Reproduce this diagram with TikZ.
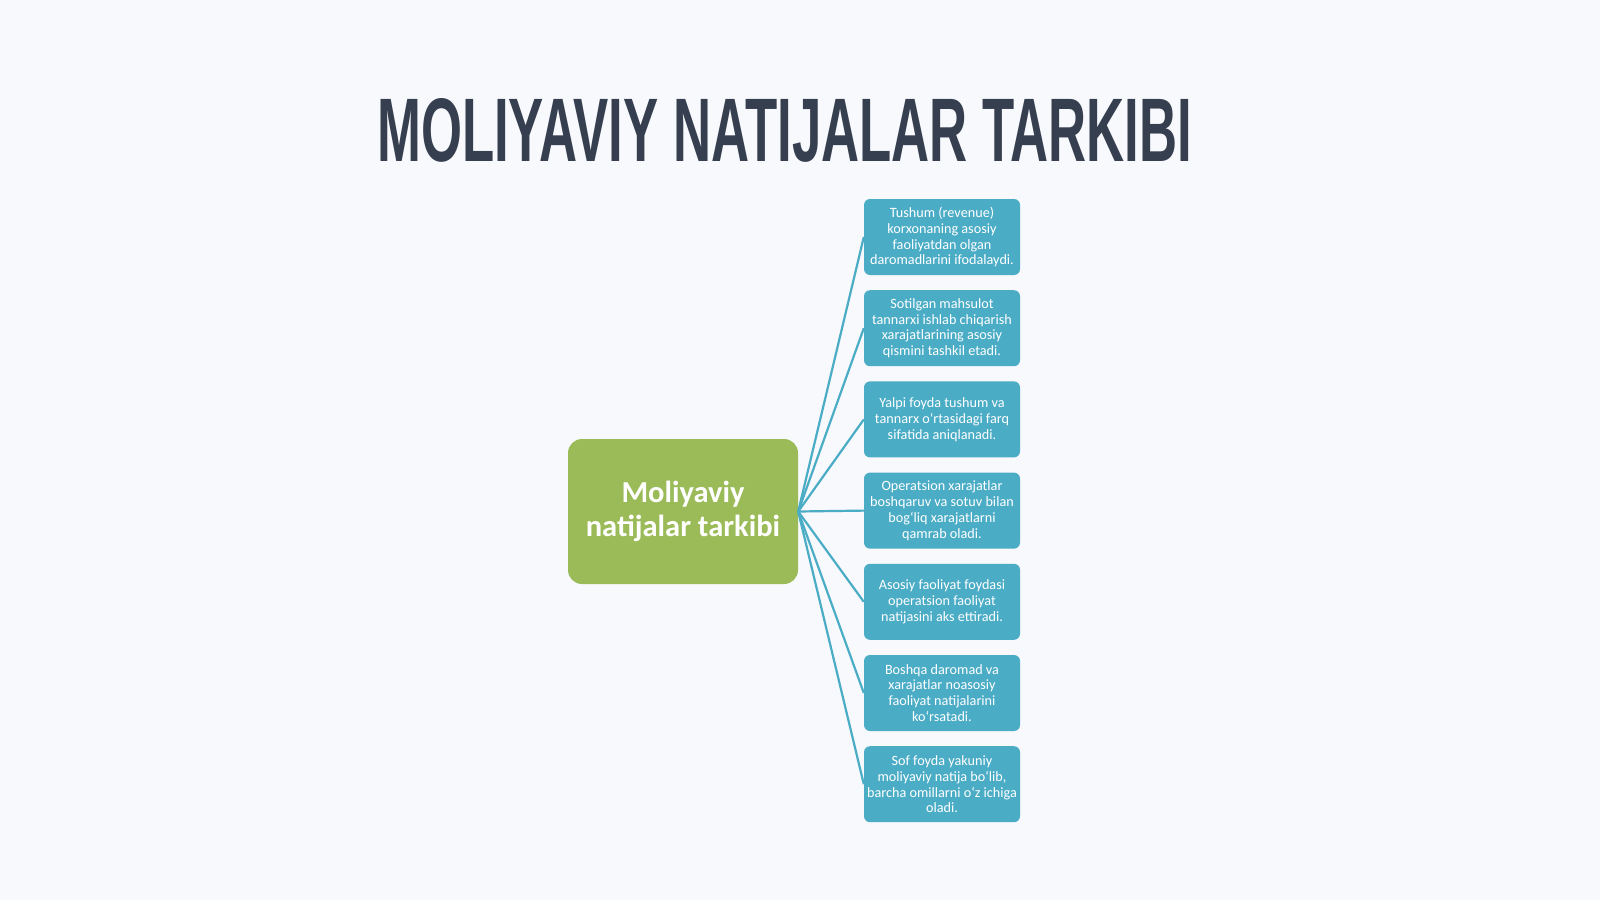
\documentclass[tikz,border=0pt]{standalone}
\usepackage{fontspec}
\setmainfont{Carlito}
\newfontfamily\titlefont{Liberation Sans}
\definecolor{bgc}{HTML}{F7F9FC}
\definecolor{titlec}{HTML}{363F4F}
\definecolor{leafc}{HTML}{4BACC6}
\definecolor{rootc}{HTML}{9BBB59}
\tikzset{
  leaf/.style={fill=leafc, rounded corners=6pt, minimum width=156pt, minimum height=76pt,
    align=center, inner sep=0pt, text=white,
    font=\fontsize{14.2}{15.9}\selectfont},
  rootbox/.style={fill=rootc, rounded corners=14pt, minimum width=230pt, minimum height=145pt,
    align=center, inner sep=0pt, text=white, font=\fontsize{30.5}{34}\selectfont\bfseries},
  link/.style={draw=leafc, line width=2.2pt}
}
\begin{document}
\begin{tikzpicture}[x=1pt,y=-1pt]
\fill[bgc] (0,0) rectangle (1600,900);
\useasboundingbox (0,0) rectangle (1600,900);
\node[anchor=south west, inner sep=0pt, text=titlec] (title) at (377,163)
  {\resizebox{815pt}{63pt}{\titlefont\bfseries MOLIYAVIY NATIJALAR TARKIBI}};
\node[rootbox] (root) at (683,511.5) {Moliyaviy\\natijalar tarkibi};
\node[leaf] (l1) at (942,237) {Tushum (revenue)\\korxonaning asosiy\\faoliyatdan olgan\\daromadlarini ifodalaydi.};
\node[leaf] (l2) at (942,328.2) {Sotilgan mahsulot\\tannarxi ishlab chiqarish\\xarajatlarining asosiy\\qismini tashkil etadi.};
\node[leaf] (l3) at (942,419.4) {Yalpi foyda tushum va\\tannarx o‘rtasidagi farq\\sifatida aniqlanadi.};
\node[leaf] (l4) at (942,510.6) {Operatsion xarajatlar\\boshqaruv va sotuv bilan\\bog‘liq xarajatlarni\\qamrab oladi.};
\node[leaf] (l5) at (942,601.8) {Asosiy faoliyat foydasi\\operatsion faoliyat\\natijasini aks ettiradi.};
\node[leaf] (l6) at (942,693) {Boshqa daromad va\\xarajatlar noasosiy\\faoliyat natijalarini\\ko‘rsatadi.};
\node[leaf] (l7) at (942,784.2) {Sof foyda yakuniy\\moliyaviy natija bo‘lib,\\barcha omillarni o‘z ichiga\\oladi.};
\foreach \n in {l1,l2,l3,l4,l5,l6,l7}{
  \draw[link] (root.east) -- (\n.west);
}
\end{tikzpicture}
\end{document}
